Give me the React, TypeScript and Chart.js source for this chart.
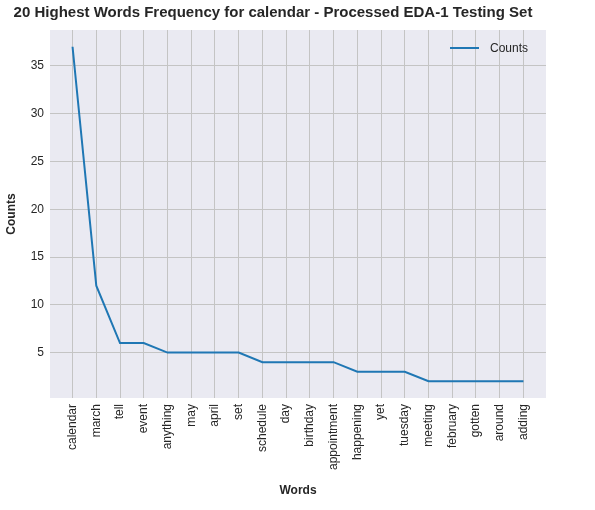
import React, { useRef, useEffect } from "react";
import Chart from "chart.js/auto";

const words = [
  "calendar", "march", "tell", "event", "anything", "may", "april", "set",
  "schedule", "day", "birthday", "appointment", "happening", "yet", "tuesday",
  "meeting", "february", "gotten", "around", "adding",
];
const counts = [37, 12, 6, 6, 5, 5, 5, 5, 4, 4, 4, 4, 3, 3, 3, 2, 2, 2, 2, 2];
const yTicks = [5, 10, 15, 20, 25, 30, 35];

const FONT = "'Liberation Sans', Arial, sans-serif";
const TEXT = "#262626";
const GRID = "#c4c4c4";

const bgPlugin = {
  id: "plotBg",
  beforeDraw(chart: Chart) {
    const { ctx, chartArea } = chart;
    ctx.save();
    ctx.fillStyle = "#eaeaf2";
    ctx.fillRect(chartArea.left, chartArea.top, chartArea.right - chartArea.left, chartArea.bottom - chartArea.top);
    ctx.restore();
  },
};

const legendPlugin = {
  id: "innerLegend",
  afterDraw(chart: Chart) {
    const { ctx, chartArea } = chart;
    const y = chartArea.top + 18;
    const x = chartArea.right - 96;
    ctx.save();
    ctx.strokeStyle = "#1f77b4";
    ctx.lineWidth = 2;
    ctx.beginPath();
    ctx.moveTo(x, y);
    ctx.lineTo(x + 29, y);
    ctx.stroke();
    ctx.fillStyle = TEXT;
    ctx.font = `12px ${FONT}`;
    ctx.textBaseline = "middle";
    ctx.fillText(chart.data.datasets[0].label as string, x + 40, y + 1);
    ctx.restore();
  },
};

export default function App() {
  const canvasRef = useRef<HTMLCanvasElement>(null);

  useEffect(() => {
    const ctx = canvasRef.current?.getContext("2d");
    if (!ctx) return;
    const chart = new Chart(ctx, {
      type: "line",
      data: {
        datasets: [
          {
            label: "Counts",
            data: counts.map((c, i) => ({ x: i, y: c })),
            borderColor: "#1f77b4",
            backgroundColor: "#1f77b4",
            borderWidth: 2,
            pointRadius: 0,
            tension: 0,
          },
        ],
      },
      options: {
        animation: false,
        responsive: false,
        layout: { padding: { left: 0, right: 49, bottom: 8, top: 0 } },
        plugins: {
          title: {
            display: true,
            text: "20 Highest Words Frequency for calendar - Processed EDA-1 Testing Set",
            color: TEXT,
            font: { family: FONT, size: 15, weight: "bold" },
            padding: { top: 4, bottom: 8 },
          },
          legend: { display: false },
          tooltip: { enabled: false },
        },
        scales: {
          x: {
            type: "linear",
            min: -0.95,
            max: 19.95,
            afterBuildTicks: (s: any) => {
              s.ticks = words.map((_, i) => ({ value: i }));
            },
            grid: { color: GRID, drawTicks: false },
            border: { display: false },
            ticks: {
              color: TEXT,
              font: { family: FONT, size: 12 },
              maxRotation: 90,
              minRotation: 90,
              padding: 6,
              autoSkip: false,
              callback: (v: any) => words[v] ?? "",
            },
            title: {
              display: true,
              text: "Words",
              color: TEXT,
              font: { family: FONT, size: 12, weight: "bold" },
            },
            afterFit: (s: any) => {
              s.height = 104;
            },
          },
          y: {
            min: 0.25,
            max: 38.75,
            afterBuildTicks: (s: any) => {
              s.ticks = yTicks.map((v) => ({ value: v }));
            },
            grid: { color: GRID, drawTicks: false },
            border: { display: false },
            ticks: { color: TEXT, font: { family: FONT, size: 12 }, padding: 6 },
            title: {
              display: true,
              text: "Counts",
              color: TEXT,
              font: { family: FONT, size: 12, weight: "bold" },
            },
            afterFit: (s: any) => {
              s.width = 50;
            },
          },
        },
      },
      plugins: [bgPlugin, legendPlugin],
    });
    return () => chart.destroy();
  }, []);

  return (
    <div style={{ position: "absolute", left: 0, top: 0, width: 595, height: 510, background: "#fff" }}>
      <canvas ref={canvasRef} width={595} height={510} />
    </div>
  );
}
